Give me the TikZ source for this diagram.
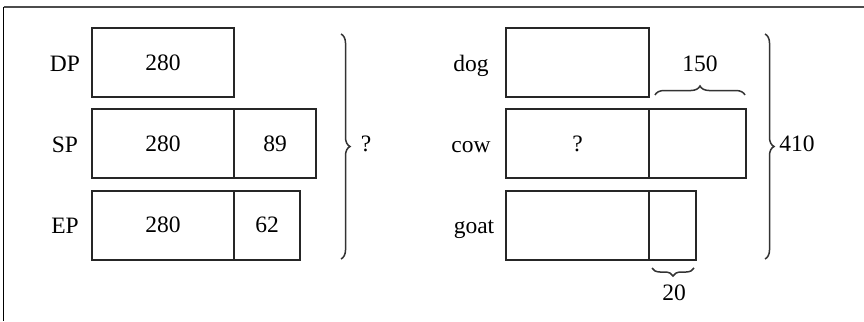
\documentclass[tikz,border=0pt]{standalone}
\usepackage{fontspec}
\setmainfont{Liberation Serif}
\usetikzlibrary{decorations.pathreplacing}
\begin{document}
\begin{tikzpicture}[x=1pt,y=-1pt,
  font=\fontsize{23.5}{26}\selectfont,
  bar/.style={draw=black!85, line width=2pt, inner sep=0pt, minimum height=69pt},
  rowlabel/.style={inner sep=0pt, anchor=base},
  bracepath/.style={draw=black!80, line width=1.5pt, decorate, decoration={brace, amplitude=9pt}},
]
\useasboundingbox (0,0) rectangle (864,321);

% frame: only the top and left edges are visible
\coordinate (ftl) at (3.5,7);
\coordinate (ftr) at (864,7);
\coordinate (fbl) at (3.5,321);
\draw[black!70, line width=1.6pt] (ftl) -- (ftr);
\draw[black, line width=1.4pt] (ftl) -- (fbl);

% ---------- left group ----------
\node[rowlabel] (lDP) at (65,71) {DP};
\node[rowlabel] (lSP) at (65,152.5) {SP};
\node[rowlabel] (lEP) at (65,233.5) {EP};

\node[bar, minimum width=142pt] (dp) at (163,62.5) {280};
\node[bar, minimum width=142pt] (sp1) at (163,143.5) {280};
\node[bar, minimum width=82pt]  (sp2) at (275,143.5) {89};
\node[bar, minimum width=142pt] (ep1) at (163,225) {280};
\node[bar, minimum width=66pt]  (ep2) at (267,225) {62};

\coordinate (bq1) at (341,34);
\coordinate (bq2) at (341,259);
\draw[bracepath] (bq1) -- (bq2);
\node[rowlabel] (qtotal) at (366,151.5) {?};

% ---------- right group ----------
\node[rowlabel] (ldog) at (471,71) {dog};
\node[rowlabel] (lcow) at (471,152) {cow};
\node[rowlabel] (lgoat) at (474,233) {goat};

\node[bar, minimum width=143pt] (dog) at (577.5,62.5) {};
\node[bar, minimum width=143pt] (cow1) at (577.5,143.5) {?};
\node[bar, minimum width=97pt]  (cow2) at (697.5,143.5) {};
\node[bar, minimum width=143pt] (goat1) at (577.5,225) {};
\node[bar, minimum width=47pt]  (goat2) at (672.5,225) {};

% brace over the extra part of cow
\coordinate (b150a) at (655,95);
\coordinate (b150b) at (745,95);
\draw[bracepath] (b150a) -- (b150b);
\node[rowlabel] (n150) at (700,71) {150};

% brace under the extra part of goat
\coordinate (b20a) at (694,268);
\coordinate (b20b) at (652,268);
\draw[bracepath, decoration={brace, amplitude=8pt}] (b20a) -- (b20b);
\node[rowlabel] (n20) at (674,300) {20};

% brace for the total
\coordinate (bt1) at (765,34);
\coordinate (bt2) at (765,259);
\draw[bracepath] (bt1) -- (bt2);
\node[rowlabel] (n410) at (797,151.5) {410};
\end{tikzpicture}
\end{document}
